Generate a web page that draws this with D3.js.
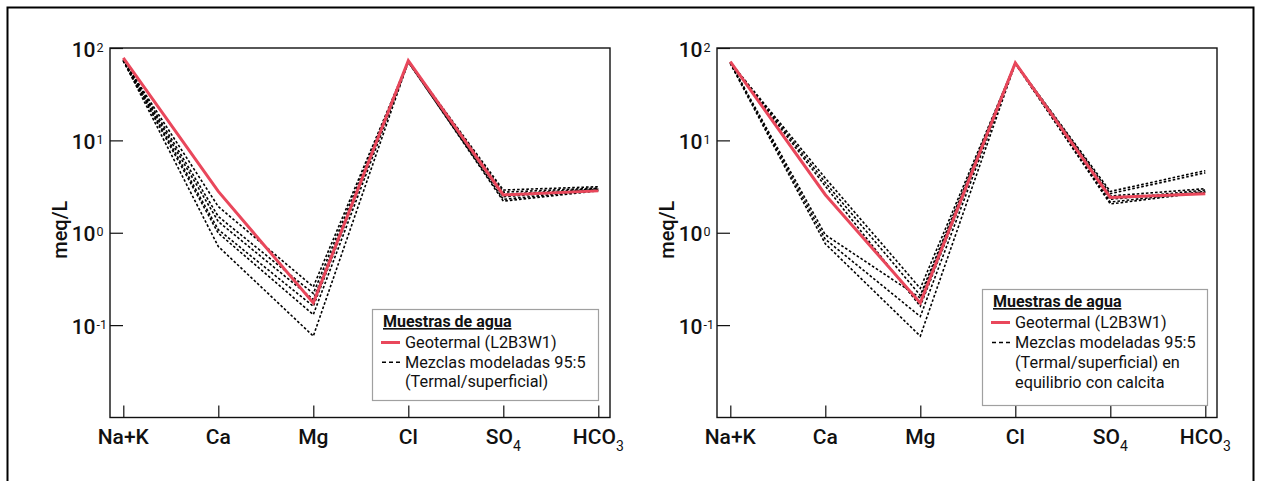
<!DOCTYPE html>
<html>
<head>
<meta charset="utf-8">
<script src="https://cdn.jsdelivr.net/npm/d3@7"></script>
<style>
  html, body { margin: 0; padding: 0; background: #fff; }
  svg { display: block; font-family: Roboto, "Noto Sans", sans-serif; }
</style>
</head>
<body>
<svg id="chart" width="1261" height="481"></svg>
<script>
// Ions on the x axis: [main text, subscript]
const ions = [["Na+K", ""], ["Ca", ""], ["Mg", ""], ["Cl", ""], ["SO", "4"], ["HCO", "3"]];
const ionKeys = ions.map(d => d[0] + d[1]);
const tickExponents = [-1, 0, 1, 2];

// Panel A: geothermal sample and modelled 95:5 mixtures (meq/L)
const geoA = [78, 2.8, 0.174, 73, 2.57, 2.84];
const mixA1 = [74, 1.92, 0.26, 72, 2.9, 3.15];
const mixA2 = [75, 1.50, 0.22, 72, 2.75, 3.05];
const mixA3 = [73, 1.32, 0.19, 71, 2.6, 3.0];
const mixA4 = [74, 1.08, 0.16, 72, 2.45, 2.95];
const mixA5 = [72, 0.99, 0.13, 70, 2.3, 2.9];
const mixA6 = [73, 0.71, 0.076, 71, 2.2, 2.85];

// Panel B: same sample, mixtures equilibrated with calcite (meq/L)
const geoB = [71, 2.58, 0.174, 69, 2.41, 2.65];
const mixB1 = [70, 3.9, 0.25, 69, 2.8, 4.7];
const mixB2 = [70, 3.5, 0.21, 69, 2.65, 4.45];
const mixB3 = [69, 3.2, 0.16, 68, 2.5, 3.0];
const mixB4 = [70, 0.95, 0.197, 69, 2.3, 2.9];
const mixB5 = [69, 0.85, 0.124, 68, 2.15, 2.8];
const mixB6 = [68, 0.76, 0.076, 68, 2.05, 2.75];

const legendTitle = "Muestras de agua";
const legendGeo = ["Geotermal (L2B3W1)"];
const legendMixA = ["Mezclas modeladas 95:5", "(Termal/superficial)"];
const legendMixB = ["Mezclas modeladas 95:5", "(Termal/superficial) en", "equilibrio con calcita"];
const yLabel = "meq/L";

const RED = "#e9475b";
const svg = d3.select("#chart");

// outer frame
svg.append("rect")
  .attr("x", 7.5).attr("y", 7.5).attr("width", 1246).attr("height", 520)
  .attr("fill", "none").attr("stroke", "#000").attr("stroke-width", 2);

function drawPanel(cfg) {
  const { left, right, top, bottom, geo, mixes, legend } = cfg;
  const g = svg.append("g");

  const x = d3.scalePoint().domain(ionKeys).range([left + 13.3, right - 11.7]);
  const y = d3.scaleLog().domain([0.01, 100]).range([bottom, top]);

  // frame
  g.append("rect")
    .attr("x", left).attr("y", top)
    .attr("width", right - left).attr("height", bottom - top)
    .attr("fill", "none").attr("stroke", "#111").attr("stroke-width", 1.4);

  // x ticks (inward) and labels
  const xAxis = d3.axisBottom(x).tickSize(-12).tickFormat("");
  const xa = g.append("g").attr("transform", `translate(0,${bottom})`).call(xAxis);
  xa.select(".domain").remove();
  xa.selectAll(".tick line").attr("stroke", "#111").attr("stroke-width", 1.2);

  ions.forEach(([main, sub]) => {
    const t = g.append("text")
      .attr("x", x(main + sub)).attr("y", bottom + 26)
      .attr("text-anchor", "middle")
      .attr("font-size", 21).attr("font-weight", 500).attr("fill", "#111")
      .text(main);
    if (sub) {
      t.append("tspan").attr("dy", 7).attr("font-size", 14).attr("font-weight", 400).text(sub);
    }
  });

  // y ticks (inward) and labels
  const yAxis = d3.axisLeft(y).tickValues(tickExponents.map(e => Math.pow(10, e)))
    .tickSize(-13).tickFormat("");
  const ya = g.append("g").attr("transform", `translate(${left},0)`).call(yAxis);
  ya.select(".domain").remove();
  ya.selectAll(".tick line").attr("stroke", "#111").attr("stroke-width", 1.2);

  tickExponents.forEach(e => {
    const ty = y(Math.pow(10, e));
    g.append("text")
      .attr("x", left - 14.5).attr("y", ty + 8.5)
      .attr("text-anchor", "end")
      .attr("font-size", 21).attr("font-weight", 500).attr("fill", "#111")
      .text("10");
    g.append("text")
      .attr("x", left - 13.5).attr("y", ty + 3.5)
      .attr("font-size", 12.5).attr("fill", "#111")
      .text(e < 0 ? "-" + Math.abs(e) : String(e));
  });

  // y axis title
  g.append("text")
    .attr("transform", `translate(${left - 43},${(top + bottom) / 2 - 3}) rotate(-90)`)
    .attr("text-anchor", "middle")
    .attr("font-size", 20).attr("font-weight", 500).attr("fill", "#111")
    .text(yLabel);

  const line = d3.line().x((d, i) => x(ionKeys[i])).y(d => y(d));

  // modelled mixtures
  g.selectAll("path.mix").data(mixes).join("path")
    .attr("class", "mix")
    .attr("d", line)
    .attr("fill", "none").attr("stroke", "#000")
    .attr("stroke-width", 1.6).attr("stroke-dasharray", "2.6,2")
    .attr("stroke-linejoin", "miter");

  // geothermal sample
  g.append("path").datum(geo)
    .attr("d", line)
    .attr("fill", "none").attr("stroke", RED)
    .attr("stroke-width", 3).attr("stroke-linejoin", "miter");

  // legend
  const L = legend;
  const lg = g.append("g").attr("transform", `translate(${L.x},${L.y})`);
  lg.append("rect")
    .attr("x", 0.5).attr("y", 0.5).attr("width", L.w).attr("height", L.h)
    .attr("fill", "#fff").attr("stroke", "#a0a0a0").attr("stroke-width", 1.2);
  lg.append("text")
    .attr("x", 11).attr("y", 18)
    .attr("font-size", 16).attr("font-weight", 700).attr("fill", "#111")
    .attr("text-decoration", "underline")
    .text(legendTitle);
  let rowY = 39;
  lg.append("line")
    .attr("x1", 9).attr("x2", 28).attr("y1", rowY - 5.5).attr("y2", rowY - 5.5)
    .attr("stroke", RED).attr("stroke-width", 3);
  legendGeo.forEach((s, i) => {
    lg.append("text").attr("x", 33).attr("y", rowY + i * L.step)
      .attr("font-size", 16.3).attr("fill", "#111").text(s);
  });
  rowY += legendGeo.length * L.step;
  lg.append("line")
    .attr("x1", 10).attr("x2", 28).attr("y1", rowY - 5.5).attr("y2", rowY - 5.5)
    .attr("stroke", "#000").attr("stroke-width", 1.6).attr("stroke-dasharray", "4,3");
  L.mixLines.forEach((s, i) => {
    lg.append("text").attr("x", 33).attr("y", rowY + i * L.step)
      .attr("font-size", 16.3).attr("fill", "#111").text(s);
  });
}

drawPanel({
  left: 110, right: 610, top: 48, bottom: 417.5,
  geo: geoA,
  mixes: [mixA1, mixA2, mixA3, mixA4, mixA5, mixA6],
  legend: { x: 372, y: 309, w: 226, h: 91, step: 19.7, mixLines: legendMixA }
});

drawPanel({
  left: 717, right: 1217, top: 48, bottom: 417.5,
  geo: geoB,
  mixes: [mixB1, mixB2, mixB3, mixB4, mixB5, mixB6],
  legend: { x: 982, y: 289, w: 225, h: 116, step: 20, mixLines: legendMixB }
});
</script>
</body>
</html>
